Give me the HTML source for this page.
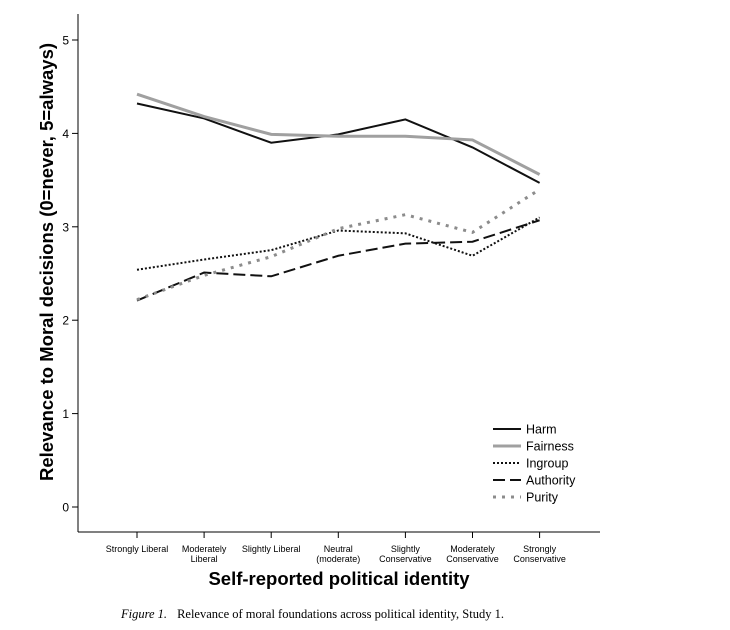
<!DOCTYPE html>
<html><head><meta charset="utf-8"><style>
body{margin:0;background:#fff;width:730px;height:625px;overflow:hidden}
text{font-family:"Liberation Sans",sans-serif}
</style></head><body>
<svg id="chart" width="730" height="625" xmlns="http://www.w3.org/2000/svg"></svg>
<script>
const categories=[["Strongly Liberal"],["Moderately","Liberal"],["Slightly Liberal"],["Neutral","(moderate)"],["Slightly","Conservative"],["Moderately","Conservative"],["Strongly","Conservative"]];
const harm=[4.32,4.16,3.90,3.99,4.15,3.85,3.47];
const fairness=[4.42,4.18,3.99,3.97,3.97,3.93,3.56];
const ingroup=[2.54,2.65,2.75,2.96,2.93,2.69,3.10];
const authority=[2.21,2.51,2.47,2.69,2.82,2.84,3.07];
const purity=[2.22,2.48,2.68,2.98,3.13,2.94,3.40];
const yTicks=[0,1,2,3,4,5];
const seriesNames=["Harm","Fairness","Ingroup","Authority","Purity"];
const NS="http://www.w3.org/2000/svg";
const svg=document.getElementById('chart');
const X=i=>137+i*67.1, Y=v=>507-93.4*v;
function el(t,a,txt){const e=document.createElementNS(NS,t);for(const k in a)e.setAttribute(k,a[k]);if(txt!=null)e.textContent=txt;svg.appendChild(e);return e;}
let e;
e=el('line',{x1:78,y1:14,x2:78,y2:532,stroke:'#000','stroke-width':1});


e=el('line',{x1:78,y1:532,x2:600,y2:532,stroke:'#000','stroke-width':1});


yTicks.forEach(v=>{
 el('line',{x1:72,y1:Y(v),x2:78,y2:Y(v),stroke:'#000'});
 e=el('text',{x:69,y:Y(v)+4.5,'text-anchor':'end','font-size':12},String(v));
 
 
});
categories.forEach((c,i)=>{
 el('line',{x1:X(i),y1:532,x2:X(i),y2:538,stroke:'#000'});
 c.forEach((s,j)=>{
  e=el('text',{x:X(i),y:552+j*10,'text-anchor':'middle','font-size':9},s);
  
  
 });
});
const styles=[
 {d:harm,stroke:'#111',w:2,dash:''},
 {d:fairness,stroke:'#a0a0a0',w:3,dash:''},
 {d:ingroup,stroke:'#111',w:2,dash:'2,2'},
 {d:authority,stroke:'#111',w:2,dash:'12,5'},
 {d:purity,stroke:'#8c8c8c',w:3,dash:'3,6'}];
styles.forEach((s,k)=>{
 e=el('polyline',{points:s.d.map((v,i)=>X(i)+','+Y(v)).join(' '),fill:'none',stroke:s.stroke,'stroke-width':s.w,'stroke-dasharray':s.dash});
 
 
 const ly=429+k*17;
 el('line',{x1:493,y1:ly,x2:521,y2:ly,stroke:s.stroke,'stroke-width':s.w,'stroke-dasharray':s.dash});
 e=el('text',{x:526,y:ly+4.5,'font-size':12.5},seriesNames[k]);
 
 
});
e=el('text',{x:0,y:0,'font-size':18.5,'font-weight':'bold','text-anchor':'middle',transform:'translate(53,262) rotate(-90)'},'Relevance to Moral decisions (0=never, 5=always)');


e=el('text',{x:339,y:585,'font-size':18.5,'font-weight':'bold','text-anchor':'middle'},'Self-reported political identity');


e=el('text',{x:121,y:618,'font-size':12.5,style:'font-family:"Liberation Serif",serif'});
e.innerHTML='<tspan font-style="italic">Figure 1.</tspan><tspan dx="10">Relevance of moral foundations across political identity, Study 1.</tspan>';


</script>
</body></html>
